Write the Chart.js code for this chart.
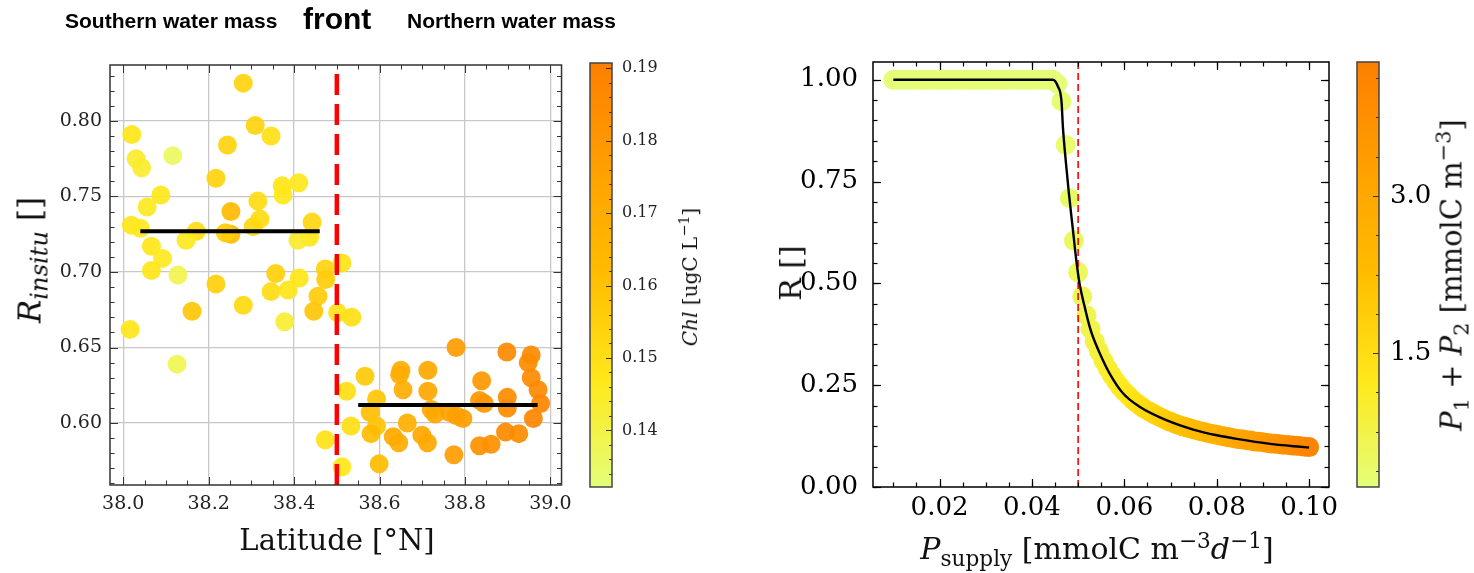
<!DOCTYPE html>
<html><head><meta charset="utf-8">
<script src="https://cdn.jsdelivr.net/npm/chart.js@4.4.1/dist/chart.umd.min.js"></script>
<style>
html,body{margin:0;padding:0;background:#fff;}
#wrap{position:relative;width:1474px;height:573px;overflow:hidden;background:#fff;}
canvas{position:absolute;top:0;}
.t{position:absolute;white-space:nowrap;line-height:1;color:#111;z-index:5;}
.serif{font-family:'DejaVu Serif',serif;}
.hdr{font-family:'Liberation Sans',Arial,sans-serif;font-weight:bold;color:#000;transform:translateY(-50%);}
.c{transform:translate(-50%,-50%);}
.r{transform:translate(-50%,-50%) rotate(-90deg);}
sub,sup{font-size:72%;line-height:0;}
</style></head>
<body>
<div id="wrap">
<canvas id="cL" width="580" height="573" style="left:0px"></canvas>
<canvas id="cbL" width="115" height="573" style="left:585px"></canvas>
<canvas id="cR" width="645" height="573" style="left:700px"></canvas>
<canvas id="cbR" width="124" height="573" style="left:1350px"></canvas>

<div class="t hdr" style="left:65px;top:20px;font-size:21px;">Southern water mass</div>
<div class="t hdr" style="left:303px;top:19px;font-size:30px;">front</div>
<div class="t hdr" style="left:407px;top:20px;font-size:21px;">Northern water mass</div>

<div class="t serif r" style="left:30px;top:260px;font-size:31px;"><i>R</i><sub style="font-size:78%"><i>insitu</i></sub> []</div>
<div class="t serif c" style="left:337px;top:540px;font-size:29px;">Latitude [°N]</div>
<div class="t serif r" style="left:690px;top:277px;font-size:20px;"><i>Chl</i> [ugC L<sup>−1</sup>]</div>

<div class="t serif r" style="left:791px;top:273px;font-size:30px;">R []</div>
<div class="t serif c" style="left:1097px;top:549px;font-size:30px;"><i>P</i><sub>supply</sub> [mmolC m<sup>−3</sup><i>d</i><sup>−1</sup>]</div>
<div class="t serif r" style="left:1452px;top:275px;font-size:29px;"><i>P</i><sub>1</sub> + <i>P</i><sub>2</sub> [mmolC m<sup>−3</sup>]</div>
</div>

<script>
// ---------------- LEFT PANEL DATA ----------------
const LAT = [38.281,38.020,38.030,38.043,38.116,38.309,38.346,38.244,38.217,38.372,
 38.374,38.411,38.088,38.056,38.019,38.040,38.315,38.320,38.304,38.252,
 38.252,38.239,38.171,38.147,38.442,38.436,38.409,38.066,38.092,38.066,
 38.128,38.357,38.412,38.473,38.474,38.512,38.217,38.346,38.386,38.456,
 38.161,38.281,38.446,38.378,38.502,38.535,38.016,38.126,38.523,38.533,
 38.473,38.512,
 38.566,38.593,38.578,38.593,38.580,38.599,38.650,38.647,38.655,38.665,
 38.632,38.645,38.713,38.713,38.721,38.730,38.699,38.712,38.764,38.779,
 38.795,38.779,38.774,38.839,38.834,38.845,38.834,38.861,38.898,38.899,
 38.899,38.895,38.926,38.955,38.948,38.955,38.971,38.977,38.960];
const R_INSITU = [0.825,0.791,0.775,0.769,0.777,0.797,0.790,0.784,0.762,0.757,
 0.751,0.759,0.751,0.743,0.731,0.729,0.747,0.735,0.730,0.740,
 0.725,0.726,0.727,0.721,0.733,0.723,0.721,0.717,0.709,0.701,
 0.698,0.699,0.696,0.702,0.695,0.706,0.692,0.687,0.688,0.684,
 0.674,0.678,0.674,0.667,0.673,0.670,0.662,0.639,0.621,0.598,
 0.589,0.571,
 0.631,0.616,0.607,0.598,0.593,0.573,0.635,0.632,0.622,0.600,
 0.591,0.587,0.635,0.621,0.609,0.606,0.592,0.587,0.607,0.605,
 0.603,0.650,0.579,0.628,0.615,0.613,0.585,0.586,0.647,0.617,
 0.610,0.594,0.593,0.645,0.640,0.630,0.622,0.613,0.603];
const CHL = [0.154,0.148,0.144,0.144,0.136,0.154,0.150,0.154,0.154,0.148,
 0.147,0.147,0.147,0.146,0.148,0.146,0.151,0.151,0.152,0.163,
 0.163,0.156,0.151,0.146,0.153,0.148,0.144,0.148,0.146,0.148,
 0.139,0.155,0.148,0.154,0.156,0.149,0.155,0.151,0.148,0.156,
 0.158,0.152,0.158,0.143,0.149,0.150,0.148,0.138,0.150,0.150,
 0.149,0.148,
 0.157,0.158,0.161,0.159,0.162,0.162,0.170,0.170,0.170,0.168,
 0.171,0.170,0.172,0.172,0.172,0.172,0.172,0.172,0.175,0.175,
 0.177,0.178,0.178,0.180,0.180,0.180,0.183,0.183,0.186,0.185,
 0.185,0.186,0.185,0.186,0.185,0.186,0.186,0.187,0.187];
const FRONT_LAT = 38.5;
const SOUTH_MEAN_LAT = [38.04, 38.46];
const SOUTH_MEAN_R = [0.727, 0.727];
const NORTH_MEAN_LAT = [38.55, 38.97];
const NORTH_MEAN_R = [0.612, 0.612];
const LAT_TICKS = [38.0, 38.2, 38.4, 38.6, 38.8, 39.0];
const RIN_TICKS = [0.60, 0.65, 0.70, 0.75, 0.80];
const CHL_TICKS = [0.14, 0.15, 0.16, 0.17, 0.18, 0.19];

// ---------------- RIGHT PANEL DATA ----------------
const P_SUPPLY = [0.0100,0.0109,0.0118,0.0127,0.0136,0.0145,0.0155,0.0164,0.0173,0.0182,
 0.0191,0.0200,0.0209,0.0218,0.0227,0.0236,0.0245,0.0255,0.0264,0.0273,
 0.0282,0.0291,0.0300,0.0309,0.0318,0.0327,0.0336,0.0345,0.0355,0.0364,
 0.0373,0.0382,0.0391,0.0400,0.0409,0.0418,0.0427,0.0436,0.0445,0.0455,
 0.0464,0.0473,0.0482,0.0491,0.0500,0.0509,0.0518,0.0527,0.0536,0.0545,
 0.0555,0.0564,0.0573,0.0582,0.0591,0.0600,0.0609,0.0618,0.0627,0.0636,
 0.0645,0.0655,0.0664,0.0673,0.0682,0.0691,0.0700,0.0709,0.0718,0.0727,
 0.0736,0.0745,0.0755,0.0764,0.0773,0.0782,0.0791,0.0800,0.0809,0.0818,
 0.0827,0.0836,0.0845,0.0855,0.0864,0.0873,0.0882,0.0891,0.0900,0.0909,
 0.0918,0.0927,0.0936,0.0945,0.0955,0.0964,0.0973,0.0982,0.0991,0.1000];
const R_MODEL = [1,1,1,1,1,1,1,1,1,1,
 1,1,1,1,1,1,1,1,1,1,
 1,1,1,1,1,1,1,1,1,1,
 1,1,1,1,1,1,1,1,1,0.99,
 0.947,0.840,0.709,0.605,0.527,0.468,0.422,0.388,0.357,0.333,
 0.310,0.291,0.274,0.259,0.246,0.234,0.224,0.214,0.206,0.198,
 0.191,0.185,0.179,0.174,0.169,0.164,0.160,0.156,0.152,0.149,
 0.146,0.143,0.140,0.137,0.135,0.132,0.130,0.128,0.126,0.124,
 0.122,0.120,0.118,0.117,0.115,0.114,0.112,0.111,0.110,0.108,
 0.107,0.106,0.105,0.104,0.103,0.102,0.101,0.100,0.099,0.098];
const BIOMASS = [0.25,0.25,0.25,0.25,0.25,0.25,0.25,0.25,0.25,0.25,
 0.25,0.25,0.25,0.25,0.25,0.25,0.25,0.25,0.25,0.25,
 0.25,0.25,0.25,0.25,0.25,0.25,0.25,0.25,0.25,0.25,
 0.25,0.25,0.25,0.25,0.25,0.25,0.25,0.25,0.25,0.25,
 0.30,0.36,0.42,0.48,0.54,0.60,0.66,0.72,0.78,0.84,
 0.90,0.96,1.02,1.08,1.14,1.21,1.27,1.34,1.40,1.47,
 1.54,1.61,1.67,1.74,1.80,1.87,1.93,2.00,2.06,2.13,
 2.19,2.26,2.33,2.40,2.46,2.53,2.59,2.66,2.72,2.79,
 2.85,2.92,2.98,3.05,3.12,3.18,3.25,3.31,3.38,3.44,
 3.51,3.57,3.64,3.70,3.77,3.84,3.90,3.97,4.03,4.10];
const FIT_P = [0.010,0.0445,0.0456,0.0464,0.0467,0.0473,0.0480,0.0488,0.0496,0.0503,0.0514,0.0525,0.0532,
 0.0547,0.0568,0.0597,0.0633,0.0691,0.0749,0.0800,0.0850,0.0908,0.0966,0.100];
const FIT_R = [1.0,1.0,0.984,0.947,0.885,0.803,0.721,0.639,0.557,0.500,0.443,0.393,0.369,
 0.328,0.279,0.230,0.197,0.164,0.141,0.127,0.117,0.107,0.100,0.097];
const P_CRIT = 0.05;
const PS_TICKS = [0.02, 0.04, 0.06, 0.08, 0.10];
const R_TICKS = [0.00, 0.25, 0.50, 0.75, 1.00];
const BIO_TICKS = [1.5, 3.0];

// ---------------- helpers ----------------
const WISTIA = [[228,255,122],[255,232,26],[255,189,0],[255,160,0],[252,127,0]];
function wistia(t, a){
  t = Math.max(0, Math.min(1, t));
  const s = t*(WISTIA.length-1), i = Math.min(Math.floor(s), WISTIA.length-2), f = s-i;
  const c = WISTIA[i].map((v,k)=>Math.round(v+(WISTIA[i+1][k]-v)*f));
  return `rgba(${c[0]},${c[1]},${c[2]},${a===undefined?1:a})`;
}
function minorVals(min, max, step){
  const out=[]; const k0=Math.ceil(min/step-1e-9), k1=Math.floor(max/step+1e-9);
  for(let k=k0;k<=k1;k++) out.push(+(k*step).toFixed(6));
  return out;
}
const frameTicks = {
  id:'frameTicks',
  afterDatasetsDraw(chart, args, o){
    const {ctx, chartArea:a} = chart; const x=chart.scales.x, y=chart.scales.y;
    ctx.save();
    ctx.strokeStyle=o.color; ctx.lineWidth=o.tickWidth;
    const ln=(x1,y1,x2,y2)=>{ctx.beginPath();ctx.moveTo(x1,y1);ctx.lineTo(x2,y2);ctx.stroke();};
    const drawX=(v,len)=>{const p=Math.round(x.getPixelForValue(v))+0.5; ln(p,a.bottom,p,a.bottom-len); ln(p,a.top,p,a.top+len);};
    const drawY=(v,len)=>{const p=Math.round(y.getPixelForValue(v))+0.5; ln(a.left,p,a.left+len,p); ln(a.right,p,a.right-len,p);};
    minorVals(x.min,x.max,o.xMinor).forEach(v=>drawX(v,o.minorLen));
    minorVals(y.min,y.max,o.yMinor).forEach(v=>drawY(v,o.minorLen));
    x.ticks.forEach(t=>drawX(t.value,o.majorLen));
    y.ticks.forEach(t=>drawY(t.value,o.majorLen));
    ctx.lineWidth=o.frameWidth; ctx.strokeStyle=o.frameColor;
    ctx.strokeRect(a.left, a.top, a.right-a.left, a.bottom-a.top);
    ctx.restore();
  }
};
const cbPlugin = {
  id:'cbPlugin',
  beforeDatasetsDraw(chart){
    const a=chart.chartArea, ctx=chart.ctx;
    const g=ctx.createLinearGradient(0,a.bottom,0,a.top);
    for(let i=0;i<=20;i++) g.addColorStop(i/20, wistia(i/20));
    ctx.save(); ctx.fillStyle=g; ctx.fillRect(a.left,a.top,a.right-a.left,a.bottom-a.top); ctx.restore();
  },
  afterDraw(chart, args, o){
    const a=chart.chartArea, ctx=chart.ctx, y=chart.scales.y;
    ctx.save(); ctx.strokeStyle='#333'; ctx.lineWidth=1;
    const ln=(v,len)=>{const p=Math.round(y.getPixelForValue(v))+0.5; ctx.beginPath(); ctx.moveTo(a.right,p); ctx.lineTo(a.right-len,p); ctx.stroke();};
    minorVals(y.min,y.max,o.minor).forEach(v=>ln(v,3));
    y.ticks.forEach(t=>ln(t.value,6));
    ctx.lineWidth=1.5; ctx.strokeStyle='#444';
    ctx.strokeRect(a.left,a.top,a.right-a.left,a.bottom-a.top);
    ctx.restore();
  }
};
Chart.defaults.animation=false;
Chart.defaults.events=[];

// ---------------- LEFT CHART ----------------
const L_XMIN=37.969, L_XMAX=39.026, L_YMIN=0.559, L_YMAX=0.837;
const CHL_MIN=0.1322, CHL_MAX=0.1907;
new Chart(document.getElementById('cL'), {
  type:'scatter',
  data:{datasets:[
    {type:'line', data:SOUTH_MEAN_LAT.map((v,i)=>({x:v,y:SOUTH_MEAN_R[i]})), borderColor:'#000', borderWidth:4, pointRadius:0, order:0},
    {type:'line', data:NORTH_MEAN_LAT.map((v,i)=>({x:v,y:NORTH_MEAN_R[i]})), borderColor:'#000', borderWidth:4, pointRadius:0, order:0},
    {type:'line', data:[{x:FRONT_LAT,y:L_YMIN},{x:FRONT_LAT,y:L_YMAX}], borderColor:'#ff0000', borderWidth:4.5, borderDash:[21,9], pointRadius:0, order:1},
    {data:LAT.map((v,i)=>({x:v,y:R_INSITU[i]})), pointRadius:9.5, borderWidth:0,
      backgroundColor:CHL.map(c=>wistia((c-CHL_MIN)/(CHL_MAX-CHL_MIN),0.92)), order:2}
  ]},
  options:{responsive:false, layout:{autoPadding:false, padding:{top:65,right:17,left:0,bottom:0}},
    plugins:{legend:{display:false}, tooltip:{enabled:false},
      frameTicks:{color:'#333', tickWidth:1, majorLen:8, minorLen:4.5, xMinor:0.05, yMinor:0.01, frameWidth:1.5, frameColor:'#333'}},
    scales:{
      x:{type:'linear', min:L_XMIN, max:L_XMAX,
        afterBuildTicks:s=>{s.ticks=LAT_TICKS.map(v=>({value:v}));},
        afterFit:s=>{s.height=88;},
        grid:{color:'#c8c8c8', lineWidth:1.3, drawTicks:false}, border:{display:false},
        ticks:{padding:8, autoSkip:false, maxRotation:0, color:'#222', font:{family:'DejaVu Serif', size:19}, callback:v=>Number(v).toFixed(1)}},
      y:{type:'linear', min:L_YMIN, max:L_YMAX,
        afterBuildTicks:s=>{s.ticks=RIN_TICKS.map(v=>({value:v}));},
        afterFit:s=>{s.width=110;},
        grid:{color:'#c8c8c8', lineWidth:1.3, drawTicks:false}, border:{display:false},
        ticks:{padding:8, autoSkip:false, color:'#222', font:{family:'DejaVu Serif', size:19}, callback:v=>Number(v).toFixed(2)}}
    }},
  plugins:[frameTicks]
});

// ---------------- LEFT COLORBAR ----------------
new Chart(document.getElementById('cbL'), {
  type:'scatter', data:{datasets:[]},
  options:{responsive:false, layout:{autoPadding:false, padding:{top:63,left:5,right:0,bottom:86}},
    plugins:{legend:{display:false}, tooltip:{enabled:false}, cbPlugin:{minor:0.002}},
    scales:{
      x:{type:'linear', display:false, min:0, max:1},
      y:{type:'linear', position:'right', min:CHL_MIN, max:CHL_MAX,
        afterBuildTicks:s=>{s.ticks=CHL_TICKS.map(v=>({value:v}));},
        afterFit:s=>{s.width=88;},
        grid:{display:false, drawTicks:false}, border:{display:false},
        ticks:{padding:10, autoSkip:false, color:'#222', font:{family:'DejaVu Serif', size:16}, callback:v=>Number(v).toFixed(2)}}
    }},
  plugins:[cbPlugin]
});

// ---------------- RIGHT CHART ----------------
const R_XMIN=0.0056, R_XMAX=0.1043, R_YMIN=0.0, R_YMAX=1.0435;
const BIO_MIN=0.22, BIO_MAX=4.28;
new Chart(document.getElementById('cR'), {
  type:'scatter',
  data:{datasets:[
    {type:'line', data:FIT_P.map((v,i)=>({x:v,y:FIT_R[i]})), borderColor:'#000', borderWidth:2.4, pointRadius:0, cubicInterpolationMode:'monotone', order:0},
    {type:'line', data:[{x:P_CRIT,y:R_YMIN},{x:P_CRIT,y:R_YMAX}], borderColor:'#ff0000', borderWidth:1.6, borderDash:[7,4], pointRadius:0, order:1},
    {data:P_SUPPLY.map((v,i)=>({x:v,y:R_MODEL[i]})), pointRadius:10, borderWidth:0,
      backgroundColor:BIOMASS.map(b=>wistia((b-BIO_MIN)/(BIO_MAX-BIO_MIN))), order:2}
  ]},
  options:{responsive:false, layout:{autoPadding:false, padding:{top:62,right:16,left:0,bottom:0}},
    plugins:{legend:{display:false}, tooltip:{enabled:false},
      frameTicks:{color:'#000', tickWidth:1.2, majorLen:8, minorLen:4.5, xMinor:0.005, yMinor:0.05, frameWidth:1.5, frameColor:'#000'}},
    scales:{
      x:{type:'linear', min:R_XMIN, max:R_XMAX,
        afterBuildTicks:s=>{s.ticks=PS_TICKS.map(v=>({value:v}));},
        afterFit:s=>{s.height=86;},
        grid:{display:false, drawTicks:false}, border:{display:false},
        ticks:{padding:6, autoSkip:false, maxRotation:0, color:'#000', font:{family:'DejaVu Serif', size:26}, callback:v=>Number(v).toFixed(2)}},
      y:{type:'linear', min:R_YMIN, max:R_YMAX,
        afterBuildTicks:s=>{s.ticks=R_TICKS.map(v=>({value:v}));},
        afterFit:s=>{s.width=173;},
        grid:{display:false, drawTicks:false}, border:{display:false},
        ticks:{padding:15, autoSkip:false, color:'#000', font:{family:'DejaVu Serif', size:26}, callback:v=>Number(v).toFixed(2)}}
    }},
  plugins:[frameTicks]
});

// ---------------- RIGHT COLORBAR ----------------
new Chart(document.getElementById('cbR'), {
  type:'scatter', data:{datasets:[]},
  options:{responsive:false, layout:{autoPadding:false, padding:{top:62,left:7,right:0,bottom:86}},
    plugins:{legend:{display:false}, tooltip:{enabled:false}, cbPlugin:{minor:0.375}},
    scales:{
      x:{type:'linear', display:false, min:0, max:1},
      y:{type:'linear', position:'right', min:BIO_MIN, max:BIO_MAX,
        afterBuildTicks:s=>{s.ticks=BIO_TICKS.map(v=>({value:v}));},
        afterFit:s=>{s.width=95;},
        grid:{display:false, drawTicks:false}, border:{display:false},
        ticks:{padding:11, autoSkip:false, color:'#000', font:{family:'DejaVu Serif', size:26}, callback:v=>Number(v).toFixed(1)}}
    }},
  plugins:[cbPlugin]
});
</script>
</body></html>
